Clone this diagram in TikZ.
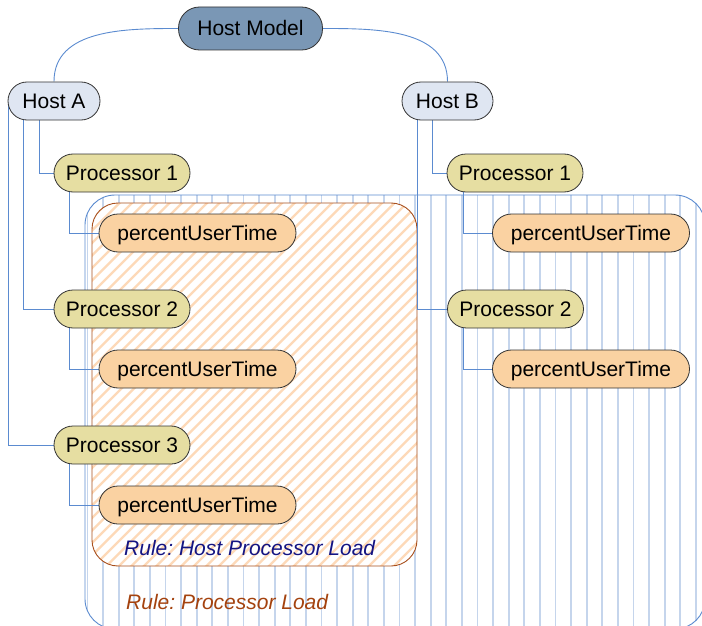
\documentclass[tikz,border=0pt]{standalone}
\usepackage{fontspec}
\setmainfont{Liberation Sans}
\usetikzlibrary{positioning}
\frenchspacing
\definecolor{hmfill}{HTML}{7A97B5}
\definecolor{hostfill}{HTML}{DFE6F2}
\definecolor{procfill}{HTML}{E6DEA2}
\definecolor{putfill}{HTML}{FAD2A2}
\definecolor{conn}{HTML}{5B8BD0}
\definecolor{vstripe}{HTML}{C5D5EC}
\definecolor{ostripe}{HTML}{FDD9B8}
\definecolor{brownline}{HTML}{A8501E}
\definecolor{navytext}{HTML}{141482}
\definecolor{browntext}{HTML}{A4420E}
\pgfdeclarelayer{bg}
\pgfdeclarelayer{mid}
\pgfsetlayers{bg,mid,main}
\begin{document}
\begin{tikzpicture}[x=1pt,y=-1pt,
  box/.style={draw=black!80, line width=0.8pt, rounded corners=19pt, minimum height=38pt, inner sep=0pt, text height=16pt, text depth=2pt, font=\fontsize{21}{25}\selectfont},
  hmbox/.style={box, fill=hmfill, minimum width=144pt, minimum height=43pt, rounded corners=21pt},
  hostbox/.style={box, fill=hostfill},
  procbox/.style={box, fill=procfill, minimum width=136pt},
  putbox/.style={box, fill=putfill, minimum width=197pt},
  link/.style={draw=conn, line width=0.9pt},
  rulelabel/.style={anchor=west, inner sep=0pt, font=\fontsize{21}{25}\selectfont\itshape}
]
\useasboundingbox (0,0) rectangle (702,626);

% outer rule region
\begin{pgfonlayer}{bg}
\begin{scope}
  \clip (0,0) rectangle (702,626);
  \begin{scope}
    \clip[rounded corners=30pt] (85,195) rectangle (705,629);
    \fill[white] (85,195) rectangle (705,629);
    \foreach \k in {0,...,40} {
      \draw[vstripe, line width=1.8pt] (87.5+15.6*\k,190) -- (87.5+15.6*\k,630);
    }
  \end{scope}
  \draw[conn, line width=0.9pt, rounded corners=30pt] (85,195) rectangle (705,629);
  % inner rule region
  \begin{scope}
    \clip[rounded corners=26pt] (92,203) rectangle (417,566);
    \fill[white] (92,203) rectangle (417,566);
    \foreach \k in {0,...,60} {
      \draw[ostripe, line width=2.4pt] (-360+12.5*\k,570) -- (40+12.5*\k,170);
    }
  \end{scope}
  \draw[brownline, line width=0.9pt, rounded corners=26pt] (92,203) rectangle (417,566);
\end{scope}
\end{pgfonlayer}

% nodes
\node[hmbox] (hm) at (250.5,28.5) {Host Model};
\node[hostbox, minimum width=92pt] (ha) at (54,101) {Host A};
\node[hostbox, minimum width=91pt] (hb) at (447.5,101) {Host B};
\node[procbox] (p1a) at (122,173) {Processor 1};
\node[procbox] (p2a) at (122,309) {Processor 2};
\node[procbox] (p3a) at (122,445) {Processor 3};
\node[putbox] (u1a) at (197.5,233) {percentUserTime};
\node[putbox] (u2a) at (197.5,369) {percentUserTime};
\node[putbox] (u3a) at (197.5,505) {percentUserTime};
\node[procbox] (p1b) at (515,173) {Processor 1};
\node[procbox] (p2b) at (515.5,309) {Processor 2};
\node[putbox] (u1b) at (591,233) {percentUserTime};
\node[putbox] (u2b) at (591,369) {percentUserTime};

\node[rulelabel, text=navytext] (r1) at (124,548) {Rule: Host Processor Load};
\node[rulelabel, text=browntext] (r2) at (126,602) {Rule: Processor Load};

% connectors
\begin{pgfonlayer}{mid}
\draw[link] (hm.west) to[out=180,in=90] (ha.north);
\draw[link] (hm.east) to[out=0,in=90] (hb.north);
\draw[link] ([xshift=-15pt]ha.center) |- (p1a.west);
\draw[link] ([xshift=-31pt]ha.center) |- (p2a.west);
\draw[link] ([xshift=-45.5pt]ha.center) |- (p3a.west);
\draw[link] ([xshift=-53pt]p1a.center) |- (u1a.west);
\draw[link] ([xshift=-53pt]p2a.center) |- (u2a.west);
\draw[link] ([xshift=-53pt]p3a.center) |- (u3a.west);
\draw[link] ([xshift=-15pt]hb.center) |- (p1b.west);
\draw[link] ([xshift=-30.5pt]hb.center) |- (p2b.west);
\draw[link] ([xshift=-52pt]p1b.center) |- (u1b.west);
\draw[link] ([xshift=-52.5pt]p2b.center) |- (u2b.west);
\end{pgfonlayer}
\end{tikzpicture}
\end{document}
